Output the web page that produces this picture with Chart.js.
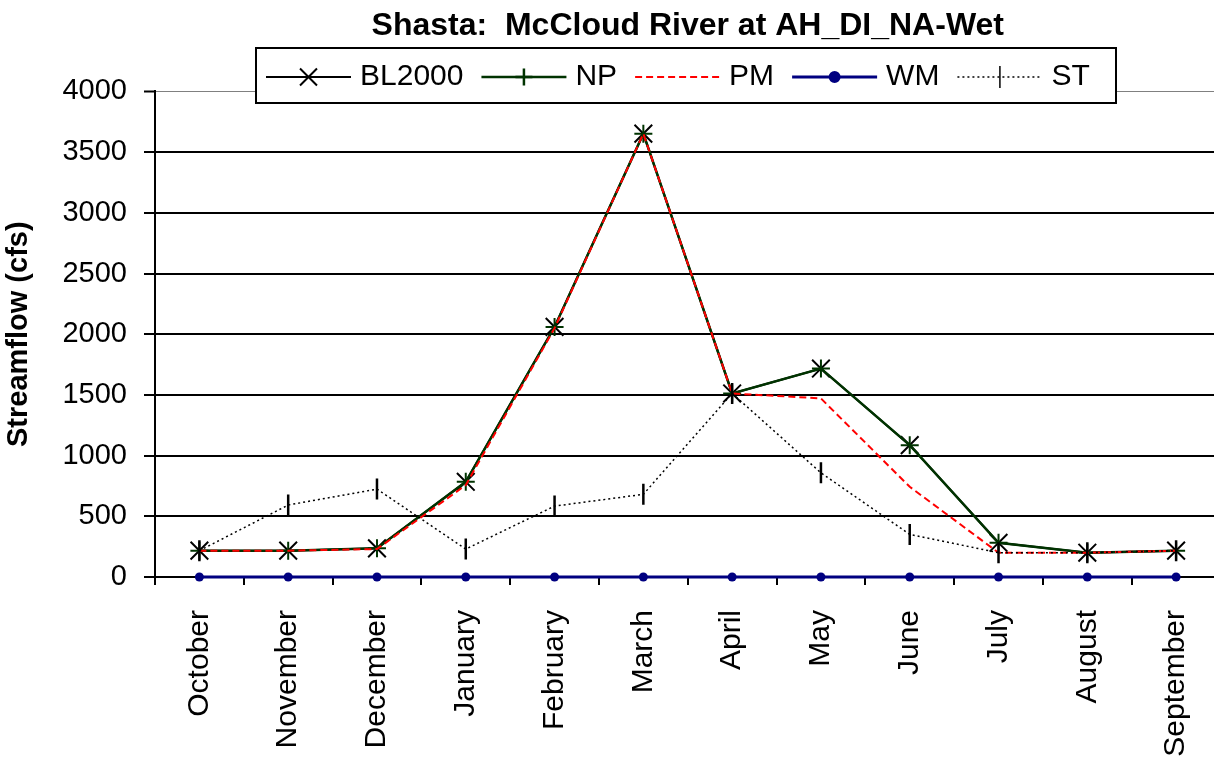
<!DOCTYPE html>
<html>
<head>
<meta charset="utf-8">
<script src="https://cdn.jsdelivr.net/npm/chart.js@4/dist/chart.umd.min.js"></script>
<style>
  html, body { margin: 0; padding: 0; background: #fff; overflow: hidden; }
  #wrap { position: relative; width: 1235px; height: 760px; }
</style>
</head>
<body>
<div id="wrap"><canvas id="c"></canvas></div>
<script>
const titleText = 'Shasta:  McCloud River at AH_DI_NA-Wet';
const yTitle = 'Streamflow (cfs)';
const months = ['October','November','December','January','February','March','April','May','June','July','August','September'];
const yTicks = [0, 500, 1000, 1500, 2000, 2500, 3000, 3500, 4000];

const bl2000 = [217, 217, 236, 784, 2060, 3652, 1512, 1717, 1086, 282, 200, 217];
const np     = [217, 217, 236, 784, 2060, 3652, 1512, 1717, 1086, 282, 200, 217];
const pm     = [217, 217, 230, 757, 2050, 3652, 1512, 1471, 743, 200, 200, 217];
const wm     = [0, 0, 0, 0, 0, 0, 0, 0, 0, 0, 0, 0];
const st     = [217, 593, 724, 230, 584, 681, 1512, 858, 351, 200, 200, 217];

const FONT = "'Liberation Sans', Arial, sans-serif";

const datasets = [
  { label: 'BL2000', data: bl2000, borderColor: '#000000', backgroundColor: '#000000', borderWidth: 2,
    pointStyle: 'crossRot', pointRadius: 12.5, pointBorderWidth: 2, pointBorderColor: '#000000', order: 5 },
  { label: 'NP', data: np, borderColor: '#003300', backgroundColor: '#003300', borderWidth: 2.5,
    pointStyle: 'cross', pointRadius: 9, pointBorderWidth: 2, pointBorderColor: '#003300', order: 4 },
  { label: 'PM', data: pm, borderColor: '#ff0000', backgroundColor: '#ff0000', borderWidth: 2,
    borderDash: [7, 4], pointRadius: 0, order: 3 },
  { label: 'WM', data: wm, borderColor: '#000080', backgroundColor: '#000080', borderWidth: 3,
    pointStyle: 'circle', pointRadius: 4.5, pointBorderWidth: 0, pointBackgroundColor: '#000080', order: 1 },
  { label: 'ST', data: st, borderColor: '#000000', backgroundColor: '#000000', borderWidth: 1.5,
    borderDash: [2, 3], pointStyle: 'line', pointRotation: 90, pointRadius: 10.5, pointBorderWidth: 2.5,
    pointBorderColor: '#000000', order: 2 }
];
datasets.forEach(d => { d.fill = false; d.tension = 0; d.clip = 14; d.pointHoverRadius = d.pointRadius; });

// custom boxed legend drawn over the plot, like the original
const legendMarkerRadius = { crossRot: 12, cross: 8.5, circle: 4.5, line: 11 };
const boxLegend = {
  id: 'boxLegend',
  afterDraw(chart) {
    const ctx = chart.ctx;
    const box = { x: 256, y: 48, w: 860, h: 55 };
    ctx.save();
    ctx.fillStyle = '#ffffff';
    ctx.fillRect(box.x, box.y, box.w, box.h);
    ctx.lineWidth = 2;
    ctx.strokeStyle = '#000000';
    ctx.strokeRect(box.x, box.y, box.w, box.h);
    ctx.font = '30px ' + FONT;
    ctx.textBaseline = 'middle';
    ctx.textAlign = 'left';
    const cy = 77;
    let x = 266;
    const lineLen = 85;
    chart.data.datasets.forEach(ds => {
      ctx.save();
      ctx.strokeStyle = ds.borderColor;
      ctx.lineWidth = ds.borderWidth;
      ctx.setLineDash(ds.borderDash || []);
      ctx.beginPath();
      ctx.moveTo(x, cy);
      ctx.lineTo(x + lineLen, cy);
      ctx.stroke();
      ctx.setLineDash([]);
      if (ds.pointRadius > 0) {
        ctx.fillStyle = ds.pointBackgroundColor || ds.borderColor;
        ctx.strokeStyle = ds.pointBorderColor || ds.borderColor;
        Chart.helpers.drawPoint(ctx, {
          pointStyle: ds.pointStyle,
          rotation: ds.pointRotation || 0,
          radius: legendMarkerRadius[ds.pointStyle],
          borderWidth: ds.pointStyle === 'crossRot' ? 1.5 : (ds.pointBorderWidth || 1)
        }, x + lineLen / 2, cy);
      }
      ctx.restore();
      ctx.fillStyle = '#000000';
      ctx.fillText(ds.label, x + lineLen + 9, cy);
      x += lineLen + 9 + ctx.measureText(ds.label).width + 18;
    });
    ctx.restore();
  }
};

new Chart(document.getElementById('c'), {
  type: 'line',
  data: { labels: months, datasets },
  plugins: [boxLegend],
  options: {
    responsive: true,
    maintainAspectRatio: false,
    animation: false,
    events: [],
    layout: { padding: { left: 0, right: 0, top: 0, bottom: 0 } },
    plugins: {
      legend: { display: false },
      tooltip: { enabled: false },
      title: {
        display: true, text: titleText, color: '#000000', fullSize: false,
        font: { family: FONT, size: 32, weight: 'bold' },
        padding: { top: 7, bottom: 46 }
      }
    },
    scales: {
      x: {
        type: 'category',
        offset: true,
        border: { display: true, color: '#000000', width: 2 },
        grid: { drawOnChartArea: false, drawTicks: true, tickLength: 8, offset: true, color: '#000000', lineWidth: 2 },
        ticks: { color: '#000000', font: { family: FONT, size: 30 }, minRotation: 90, maxRotation: 90, padding: 25, autoSkip: false },
        afterFit(scale) { scale.height = 183; scale.paddingLeft = 0; scale.paddingRight = 0; }
      },
      y: {
        min: 0, max: 4000,
        afterBuildTicks(scale) { scale.ticks = yTicks.map(v => ({ value: v })); },
        border: { display: true, color: '#000000', width: 2 },
        grid: {
          color: c => (c.tick && c.tick.value === 4000) ? '#808080' : '#000000',
          lineWidth: c => (c.tick && c.tick.value === 4000) ? 1 : 2,
          tickColor: '#000000', tickWidth: 2, tickLength: 11, drawTicks: true
        },
        ticks: { color: '#000000', font: { family: FONT, size: 29 }, padding: 17, callback: v => String(v) },
        title: { display: true, text: yTitle, color: '#000000', font: { family: FONT, size: 29, weight: 'bold' }, padding: { top: 2, bottom: 0 } },
        afterFit(scale) { scale.width = 155; scale.paddingTop = 0; scale.paddingBottom = 0; }
      }
    }
  }
});
</script>
</body>
</html>
